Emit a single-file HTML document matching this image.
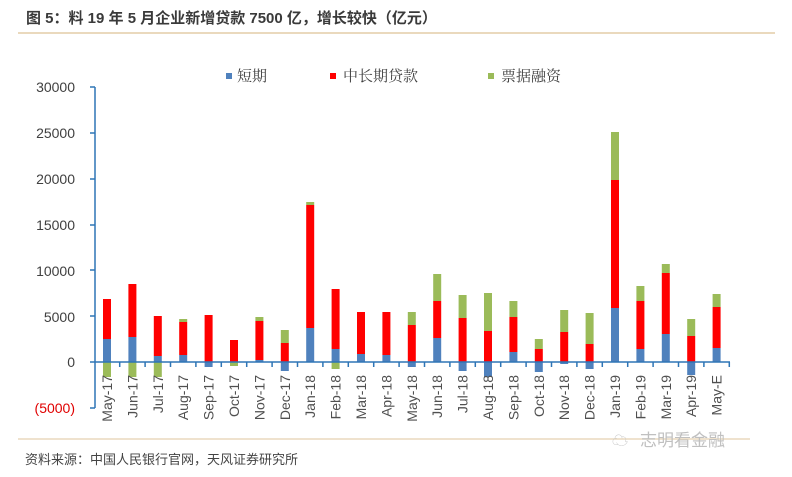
<!DOCTYPE html>
<html><head><meta charset="utf-8"><style>
html,body{margin:0;padding:0;background:#fff;width:792px;height:477px;overflow:hidden}
svg{display:block}
.t{font-family:"Liberation Sans","Noto Sans CJK SC",sans-serif}
.yl{font-family:"Liberation Sans",sans-serif;font-size:14px;fill:#404040;text-anchor:end}
.xl{font-family:"Liberation Sans",sans-serif;font-size:14px;fill:#505050;text-anchor:end}
.lg{font-family:"Liberation Serif","Noto Serif CJK SC",serif;font-size:15px;fill:#404040}
</style></head><body>
<svg width="792" height="477" viewBox="0 0 792 477" xmlns="http://www.w3.org/2000/svg">
<rect width="792" height="477" fill="#fff"/>
<text x="26" y="23" class="t" font-size="15" font-weight="bold" fill="#3a3a3a">图 5：料 19 年 5 月企业新增贷款 7500 亿，增长较快（亿元）</text>
<line x1="18" y1="33" x2="775" y2="33" stroke="#ead9bd" stroke-width="2"/>
<rect x="226" y="73" width="6" height="6" fill="#4f81bd"/><text x="237" y="81" class="lg">短期</text>
<rect x="330" y="73" width="6" height="6" fill="#ff0000"/><text x="343" y="81" class="lg">中长期贷款</text>
<rect x="488" y="73" width="6" height="6" fill="#9bbb59"/><text x="501" y="81" class="lg">票据融资</text>
<g class="yl">
<text x="75" y="92">30000</text><text x="75" y="138">25000</text><text x="75" y="184">20000</text>
<text x="75" y="230">15000</text><text x="75" y="276">10000</text><text x="75" y="322">5000</text>
<text x="75" y="367">0</text><text x="75" y="413" fill="#e00000">(5000)</text>
</g>
<g>
<rect x="103" y="339" width="8" height="23" fill="#4f81bd"/><rect x="103" y="299" width="8" height="40" fill="#ff0000"/><rect x="103" y="362" width="8" height="15" fill="#9bbb59"/>
<rect x="128.4" y="337" width="8" height="25" fill="#4f81bd"/><rect x="128.4" y="284" width="8" height="53" fill="#ff0000"/><rect x="128.4" y="362" width="8" height="15" fill="#9bbb59"/>
<rect x="153.8" y="356" width="8" height="6" fill="#4f81bd"/><rect x="153.8" y="316" width="8" height="40" fill="#ff0000"/><rect x="153.8" y="362" width="8" height="15" fill="#9bbb59"/>
<rect x="179.2" y="355" width="8" height="7" fill="#4f81bd"/><rect x="179.2" y="322" width="8" height="33" fill="#ff0000"/><rect x="179.2" y="319" width="8" height="3" fill="#9bbb59"/>
<rect x="204.6" y="315" width="8" height="47" fill="#ff0000"/><rect x="204.6" y="362" width="8" height="5" fill="#4f81bd"/>
<rect x="230" y="340" width="8" height="22" fill="#ff0000"/><rect x="230" y="362" width="8" height="4" fill="#9bbb59"/>
<rect x="255.4" y="360" width="8" height="2" fill="#4f81bd"/><rect x="255.4" y="321" width="8" height="39" fill="#ff0000"/><rect x="255.4" y="317" width="8" height="4" fill="#9bbb59"/>
<rect x="280.8" y="343" width="8" height="19" fill="#ff0000"/><rect x="280.8" y="330" width="8" height="13" fill="#9bbb59"/><rect x="280.8" y="362" width="8" height="9" fill="#4f81bd"/>
<rect x="306.2" y="328" width="8" height="34" fill="#4f81bd"/><rect x="306.2" y="205" width="8" height="123" fill="#ff0000"/><rect x="306.2" y="202" width="8" height="3" fill="#9bbb59"/>
<rect x="331.6" y="349" width="8" height="13" fill="#4f81bd"/><rect x="331.6" y="289" width="8" height="60" fill="#ff0000"/><rect x="331.6" y="362" width="8" height="7" fill="#9bbb59"/>
<rect x="357" y="354" width="8" height="8" fill="#4f81bd"/><rect x="357" y="312" width="8" height="42" fill="#ff0000"/>
<rect x="382.4" y="355" width="8" height="7" fill="#4f81bd"/><rect x="382.4" y="312" width="8" height="43" fill="#ff0000"/>
<rect x="407.8" y="325" width="8" height="37" fill="#ff0000"/><rect x="407.8" y="312" width="8" height="13" fill="#9bbb59"/><rect x="407.8" y="362" width="8" height="5" fill="#4f81bd"/>
<rect x="433.2" y="338" width="8" height="24" fill="#4f81bd"/><rect x="433.2" y="301" width="8" height="37" fill="#ff0000"/><rect x="433.2" y="274" width="8" height="27" fill="#9bbb59"/>
<rect x="458.6" y="318" width="8" height="44" fill="#ff0000"/><rect x="458.6" y="295" width="8" height="23" fill="#9bbb59"/><rect x="458.6" y="362" width="8" height="9" fill="#4f81bd"/>
<rect x="484" y="331" width="8" height="31" fill="#ff0000"/><rect x="484" y="293" width="8" height="38" fill="#9bbb59"/><rect x="484" y="362" width="8" height="15" fill="#4f81bd"/>
<rect x="509.4" y="352" width="8" height="10" fill="#4f81bd"/><rect x="509.4" y="317" width="8" height="35" fill="#ff0000"/><rect x="509.4" y="301" width="8" height="16" fill="#9bbb59"/>
<rect x="534.8" y="349" width="8" height="13" fill="#ff0000"/><rect x="534.8" y="339" width="8" height="10" fill="#9bbb59"/><rect x="534.8" y="362" width="8" height="10" fill="#4f81bd"/>
<rect x="560.2" y="332" width="8" height="30" fill="#ff0000"/><rect x="560.2" y="310" width="8" height="22" fill="#9bbb59"/><rect x="560.2" y="362" width="8" height="2" fill="#4f81bd"/>
<rect x="585.6" y="344" width="8" height="18" fill="#ff0000"/><rect x="585.6" y="313" width="8" height="31" fill="#9bbb59"/><rect x="585.6" y="362" width="8" height="7" fill="#4f81bd"/>
<rect x="611" y="308" width="8" height="54" fill="#4f81bd"/><rect x="611" y="180" width="8" height="128" fill="#ff0000"/><rect x="611" y="132" width="8" height="48" fill="#9bbb59"/>
<rect x="636.4" y="349" width="8" height="13" fill="#4f81bd"/><rect x="636.4" y="301" width="8" height="48" fill="#ff0000"/><rect x="636.4" y="286" width="8" height="15" fill="#9bbb59"/>
<rect x="661.8" y="334" width="8" height="28" fill="#4f81bd"/><rect x="661.8" y="273" width="8" height="61" fill="#ff0000"/><rect x="661.8" y="264" width="8" height="9" fill="#9bbb59"/>
<rect x="687.2" y="336" width="8" height="26" fill="#ff0000"/><rect x="687.2" y="319" width="8" height="17" fill="#9bbb59"/><rect x="687.2" y="362" width="8" height="13" fill="#4f81bd"/>
<rect x="712.6" y="348" width="8" height="14" fill="#4f81bd"/><rect x="712.6" y="307" width="8" height="41" fill="#ff0000"/><rect x="712.6" y="294" width="8" height="13" fill="#9bbb59"/>
</g>
<g stroke="#2e75b6" stroke-width="1.5" fill="none">
<line x1="95" y1="87" x2="95" y2="408"/>
<line x1="90" y1="87" x2="95" y2="87"/><line x1="90" y1="133" x2="95" y2="133"/><line x1="90" y1="179" x2="95" y2="179"/>
<line x1="90" y1="225" x2="95" y2="225"/><line x1="90" y1="270" x2="95" y2="270"/><line x1="90" y1="316" x2="95" y2="316"/>
<line x1="90" y1="362" x2="95" y2="362"/><line x1="90" y1="408" x2="95" y2="408"/>
<line x1="95" y1="362" x2="730" y2="362"/>
<path d="M119.7 362v5M145.1 362v5M170.5 362v5M195.9 362v5M221.3 362v5M246.7 362v5M272.1 362v5M297.5 362v5M322.9 362v5M348.3 362v5M373.7 362v5M399.1 362v5M424.5 362v5M449.9 362v5M475.3 362v5M500.7 362v5M526.1 362v5M551.5 362v5M576.9 362v5M602.3 362v5M627.7 362v5M653.1 362v5M678.5 362v5M703.9 362v5M729.3 362v5"/>
</g>
<g class="xl">
<text transform="translate(112,375) rotate(-90)">May-17</text>
<text transform="translate(137.4,375) rotate(-90)">Jun-17</text>
<text transform="translate(162.8,375) rotate(-90)">Jul-17</text>
<text transform="translate(188.2,375) rotate(-90)">Aug-17</text>
<text transform="translate(213.6,375) rotate(-90)">Sep-17</text>
<text transform="translate(239,375) rotate(-90)">Oct-17</text>
<text transform="translate(264.4,375) rotate(-90)">Nov-17</text>
<text transform="translate(289.8,375) rotate(-90)">Dec-17</text>
<text transform="translate(315.2,375) rotate(-90)">Jan-18</text>
<text transform="translate(340.6,375) rotate(-90)">Feb-18</text>
<text transform="translate(366,375) rotate(-90)">Mar-18</text>
<text transform="translate(391.4,375) rotate(-90)">Apr-18</text>
<text transform="translate(416.8,375) rotate(-90)">May-18</text>
<text transform="translate(442.2,375) rotate(-90)">Jun-18</text>
<text transform="translate(467.6,375) rotate(-90)">Jul-18</text>
<text transform="translate(493,375) rotate(-90)">Aug-18</text>
<text transform="translate(518.4,375) rotate(-90)">Sep-18</text>
<text transform="translate(543.8,375) rotate(-90)">Oct-18</text>
<text transform="translate(569.2,375) rotate(-90)">Nov-18</text>
<text transform="translate(594.6,375) rotate(-90)">Dec-18</text>
<text transform="translate(620,375) rotate(-90)">Jan-19</text>
<text transform="translate(645.4,375) rotate(-90)">Feb-19</text>
<text transform="translate(670.8,375) rotate(-90)">Mar-19</text>
<text transform="translate(696.2,375) rotate(-90)">Apr-19</text>
<text transform="translate(721.6,375) rotate(-90)">May-E</text>
</g>
<line x1="18" y1="439" x2="750" y2="439" stroke="#ead9bd" stroke-width="1.5"/>
<text x="612" y="446" class="t" font-size="16" fill="#c8c8c8">☁</text>
<text x="640" y="446" class="t" font-size="17" fill="#c0c0c0">志明看金融</text>
<text x="25" y="464" class="t" font-size="13" fill="#444">资料来源：中国人民银行官网，天风证券研究所</text>
</svg>
</body></html>
